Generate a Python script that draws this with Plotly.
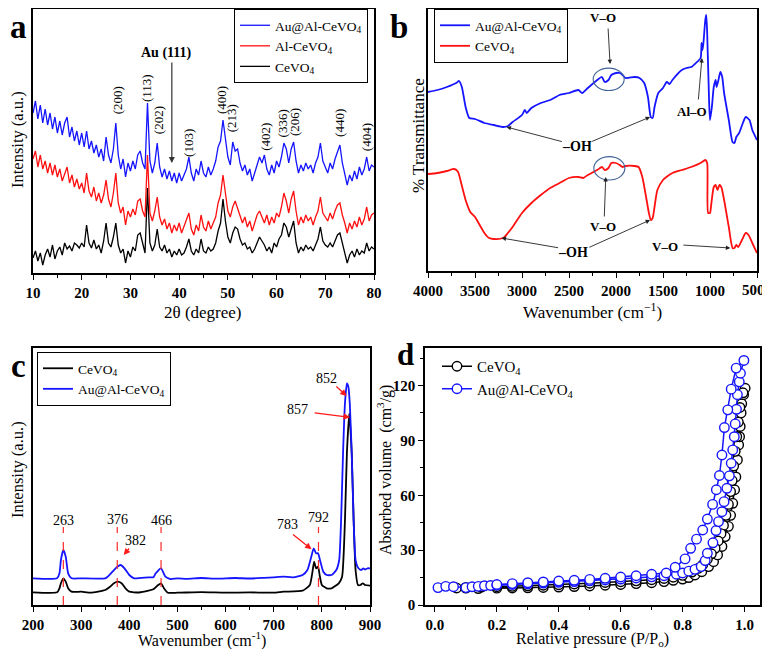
import plotly.graph_objects as go

OFF = 8  # page body margin of the browser
W, H = 770 - OFF, 657 - 2 * OFF
SERIF = "Liberation Serif, Times New Roman, serif"

# ---------------- Panel a: XRD ----------------
two_theta = [10 + 0.5 * i for i in range(141)]
xrd_cevo4 = [15,22,12,20,8,18,24,16,28,14,22,26,18,30,24,27,22,30,28,25,
             30,26,48,30,25,33,24,28,20,32,50,30,26,36,50,28,20,24,10,22,
             16,26,22,38,40,30,20,85,30,22,28,44,26,22,28,20,24,16,22,18,
             24,18,20,26,34,22,18,24,20,34,22,20,26,22,24,30,42,50,74,52,
             36,30,40,46,44,34,28,30,24,26,20,24,30,36,32,28,22,26,20,30,
             26,34,38,50,46,36,44,52,30,20,26,22,28,24,26,22,28,34,46,32,
             28,26,30,26,32,38,40,30,22,10,18,22,16,24,18,22,20,30,22,26,24]
xrd_al_cevo4 = [114,122,106,118,104,112,100,110,98,108,96,104,92,100,106,90,98,86,94,84,
                90,80,100,82,76,86,72,80,70,78,93,74,66,80,100,70,60,66,48,62,
                56,64,58,72,74,62,56,118,60,52,62,76,56,48,54,44,50,40,48,42,
                50,40,46,52,60,44,38,48,42,58,46,42,52,44,50,56,70,78,98,80,
                62,56,66,72,64,56,50,56,46,52,42,50,58,62,56,50,58,48,56,50,
                60,56,66,80,72,60,74,82,62,48,56,50,58,52,56,48,56,62,76,60,
                56,52,60,54,62,68,70,58,50,40,50,44,52,46,56,48,54,66,52,58,60]
xrd_au_al_cevo4 = [160,172,154,168,150,164,148,160,144,156,140,152,138,150,156,136,146,132,142,128,
                   140,126,142,124,132,120,128,116,124,112,136,118,110,124,150,118,104,114,96,110,
                   102,112,104,118,122,110,104,170,112,100,110,130,106,96,104,94,102,92,100,90,
                   100,92,98,104,116,100,92,104,98,112,100,96,106,98,104,112,126,132,153,132,
                   116,108,131,122,124,110,102,108,98,104,92,100,108,116,110,118,104,98,108,100,
                   112,106,116,130,124,110,124,131,112,100,108,102,110,104,108,100,110,116,130,112,
                   106,100,110,104,114,122,128,110,100,88,98,92,102,94,106,98,104,116,102,108,106]
hkl_labels = ["(200)", "(113)", "(202)", "(103)", "(400)", "(213)", "(402)", "(336)", "(206)", "(440)", "(404)"]
hkl_pos = [27.5, 33.4, 35.9, 42.0, 48.8, 50.9, 57.8, 61.4, 63.8, 73.0, 78.6]
hkl_height = [173, 185, 153, 130, 173, 155, 136, 150, 151, 150, 136]

# ---------------- Panel b: FTIR ----------------
ftir_ticks = [4000, 3500, 3000, 2500, 2000, 1500, 1000, 500]
ftir_au_wn = [4000,3900,3800,3700,3670,3640,3600,3560,3500,3400,3300,3200,3150,3100,3000,
              2970,2950,2900,2800,2700,2600,2500,2400,2360,2300,2200,2150,2120,2080,2050,
              2000,1960,1930,1900,1800,1750,1700,1660,1630,1610,1590,1550,1500,1460,1430,
              1400,1300,1250,1200,1150,1100,1090,1080,1070,1050,1040,1030,1010,1000,980,
              960,940,930,910,890,870,850,800,760,740,720,690,650,620,580,550,500]
ftir_au = [179,181,184,188,190,184,164,153,152,148,146,144,145,149,156,
           161,158,163,168,171,176,178,181,178,183,191,194,189,191,196,
           198,198,196,193,194,193,188,174,154,153,164,178,183,189,187,
           191,201,203,204,208,213,228,221,228,251,256,238,171,151,164,
           184,191,184,191,199,194,178,151,129,128,134,138,148,154,151,141,131]
ftir_ce_wn = [4000,3900,3800,3720,3680,3650,3600,3550,3500,3450,3400,3350,3300,3200,3150,
              3100,3000,2900,2800,2700,2600,2500,2400,2350,2300,2200,2150,2120,2080,2050,
              2000,1960,1930,1900,1800,1760,1720,1680,1650,1630,1610,1590,1560,1500,1450,
              1400,1300,1200,1100,1050,1030,1020,1000,990,960,940,920,900,880,850,
              800,760,740,720,700,660,620,590,550,500]
ftir_ce = [97,98,100,102,99,89,71,59,54,46,38,33,32,33,38,
           44,58,68,76,83,88,93,94,93,96,101,104,101,103,108,
           108,106,104,105,105,104,94,74,58,51,53,64,81,91,95,
           98,101,104,108,111,108,58,58,64,84,86,81,86,84,71,
           44,23,23,26,24,31,38,36,28,18]

# ---------------- Panel c: Raman ----------------
raman_ce_wn = [200,250,255,258,263,268,273,280,300,320,350,360,368,376,384,392,400,420,440,450,
               460,466,472,480,500,550,600,650,700,720,760,775,780,784,788,792,796,800,810,820,
               835,842,848,852,857,862,866,870,875,880,885,890,900]
raman_ce = [12.7,12.7,16.7,21.7,26.7,23.3,16.7,13.3,13.3,12.3,15,18.3,21.7,23.3,21.7,16.7,13.3,12.5,14.3,15.7,
            20,21.7,16.7,12.3,12.3,12.8,12.3,12.6,12.3,13.3,14.3,20,31.7,43.3,36.7,38.3,28.3,20,16.7,16.7,
            21.7,28.3,85,151.7,191.7,151.7,85,35,20,20,21.7,20,19.3]
raman_au_wn = [200,250,255,258,263,268,273,280,300,350,355,365,375,382,390,400,410,440,450,455,
               466,475,485,500,520,550,580,620,650,680,700,720,740,760,770,778,783,788,792,797,
               803,810,820,830,836,840,844,848,852,855,858,862,866,870,876,882,886,890,895,900]
raman_au = [26.7,26.7,31.7,45,55,48.3,31.7,26.7,26.7,26.7,28.3,33.3,38.3,40,36.7,30,26.7,27.7,27.7,31.7,
            36.7,28.3,26,26.7,26.2,27.0,26.3,27.0,26.5,27.2,27.7,28.3,27.7,30,35,48.3,56.7,51.7,51.7,43.3,
            33.3,30,30,35,45,85,151.7,201.7,221.7,218.3,201.7,151.7,85,45,36.7,35,36.7,35.5,36.7,36.7]
raman_lines = [263, 375, 466, 793]

# ---------------- Panel d: N2 isotherms ----------------
ce_p = [0.07,0.10,0.14,0.20,0.25,0.30,0.35,0.40,0.45,0.50,0.55,0.60,0.65,0.70,0.74,0.77,0.80,0.82,0.84,0.862,
        0.884,0.900,0.913,0.927,0.9375,0.948,0.955,0.962,0.968,0.972,0.977,0.981,0.984,0.986,0.989,0.991,0.997,1.002,
        0.995,0.985,0.98,0.975,0.97,0.965,0.96,0.955,0.948,0.94,0.932,0.924,0.915,0.905,0.893,0.88,0.865,0.85,
        0.83,0.80,0.77,0.74,0.70,0.65,0.60,0.55,0.50,0.45,0.40,0.35,0.30,0.25,0.20,0.15,0.10]
ce_v = [9.3,9.2,9.0,9.2,9.3,9.4,9.6,9.8,10.1,10.4,10.8,11.2,11.7,12.2,12.8,13.5,14.2,15.0,16.4,18.2,
        21.0,23.7,27.4,32.0,37.4,43.0,49.0,55.6,63.0,70.0,79.3,87.5,92.0,97.6,105.0,110.0,115.0,118.5,
        116,108,100,92,84,76,68,62,55,49,43.5,39,35,31,28,25,22,20,
        18,16.2,15.2,14.5,13.8,13.2,12.7,12.3,11.9,11.5,11.1,10.8,10.5,10.2,10.0,9.8,9.6]
au_p = [0.01,0.035,0.06,0.10,0.12,0.14,0.16,0.18,0.20,0.25,0.30,0.35,0.40,0.45,0.50,0.55,0.60,0.65,0.70,0.74,
        0.78,0.80,0.82,0.84,0.86,0.873,0.88,0.898,0.908,0.916,0.927,0.934,0.943,0.951,0.957,0.962,0.967,0.970,
        0.974,0.977,0.983,0.987,0.998,
        0.973,0.957,0.946,0.935,0.927,0.919,0.909,0.897,0.880,0.865,0.845,0.826,0.808,0.776,0.747,
        0.70,0.65,0.60,0.55,0.50,0.45,0.40,0.35,0.30,0.25,0.20]
au_v = [9.5,10.2,10.0,9.5,10.0,10.2,10.5,10.7,10.8,11.2,11.6,12.0,12.4,12.8,13.2,13.7,14.2,14.8,15.4,16.0,
        16.8,17.5,18.5,19.5,21.0,24.3,28.3,34.0,40.7,45.6,51.0,56.5,63.8,70.6,77.5,84.8,92.0,99.0,
        107.0,115.0,122.0,126.7,133.7,
        129.5,118,106.7,97,82,70.8,63,55,47,41,36,31,25.2,20.6,17.5,
        16.8,16,15.3,14.6,14,13.5,13.1,12.6,12.2,11.7,11.2]

BLUE, RED, BLACK = "#1515ff", "#ff1010", "#000000"

fig = go.Figure()
# Panel a
fig.add_trace(go.Scatter(x=two_theta, y=xrd_cevo4, mode="lines", name="CeVO<sub>4</sub>",
                         line=dict(color=BLACK, width=1.3), xaxis="x", yaxis="y", legend="legend"))
fig.add_trace(go.Scatter(x=two_theta, y=xrd_al_cevo4, mode="lines", name="Al-CeVO<sub>4</sub>",
                         line=dict(color=RED, width=1.3), xaxis="x", yaxis="y", legend="legend"))
fig.add_trace(go.Scatter(x=two_theta, y=xrd_au_al_cevo4, mode="lines", name="Au@Al-CeVO<sub>4</sub>",
                         line=dict(color=BLUE, width=1.3), xaxis="x", yaxis="y", legend="legend"))
# Panel b
fig.add_trace(go.Scatter(x=ftir_au_wn, y=ftir_au, mode="lines", name="Au@Al-CeVO<sub>4</sub>",
                         line=dict(color=BLUE, width=1.8, shape="spline", smoothing=0.6), xaxis="x2", yaxis="y2", legend="legend2"))
fig.add_trace(go.Scatter(x=ftir_ce_wn, y=ftir_ce, mode="lines", name="CeVO<sub>4</sub>",
                         line=dict(color=RED, width=1.8, shape="spline", smoothing=0.6), xaxis="x2", yaxis="y2", legend="legend2"))
# Panel c
fig.add_trace(go.Scatter(x=raman_ce_wn, y=raman_ce, mode="lines", name="CeVO<sub>4</sub>",
                         line=dict(color=BLACK, width=1.8, shape="spline", smoothing=0.5), xaxis="x3", yaxis="y3", legend="legend3"))
fig.add_trace(go.Scatter(x=raman_au_wn, y=raman_au, mode="lines", name="Au@Al-CeVO<sub>4</sub>",
                         line=dict(color=BLUE, width=1.8, shape="spline", smoothing=0.5), xaxis="x3", yaxis="y3", legend="legend3"))
# Panel d
fig.add_trace(go.Scatter(x=ce_p, y=ce_v, mode="lines+markers", name="CeVO<sub>4</sub>",
                         line=dict(color=BLACK, width=1.5),
                         marker=dict(symbol="circle", size=9.5, color="white", line=dict(color=BLACK, width=1.4)),
                         xaxis="x4", yaxis="y4", legend="legend4"))
fig.add_trace(go.Scatter(x=au_p, y=au_v, mode="lines+markers", name="Au@Al-CeVO<sub>4</sub>",
                         line=dict(color=BLUE, width=1.5),
                         marker=dict(symbol="circle", size=9.5, color="white", line=dict(color=BLUE, width=1.4)),
                         xaxis="x4", yaxis="y4", legend="legend4"))


def PX(x):
    return (x - OFF) / W


def PY(y):
    return 1 - (y - OFF) / H


def xd(p0, p1):
    return [PX(p0), PX(p1)]


def yd(top, bottom):
    return [PY(bottom), PY(top)]


TICKFONT = dict(family=SERIF, size=15, color="black", weight="bold")


def xax(domain, anchor, rng, dtick, minor_dtick, **kw):
    d = dict(domain=domain, anchor=anchor, range=rng, dtick=dtick, showline=True, mirror=True,
             linecolor="black", linewidth=1.5, showgrid=False, zeroline=False, ticks="outside",
             ticklen=5, tickwidth=1.2, tickcolor="black", automargin=False,
             tickfont=TICKFONT,
             minor=dict(ticks="outside", ticklen=3, dtick=minor_dtick, tickcolor="black", tickwidth=1))
    d.update(kw)
    return d


def yax_blank(domain, anchor, rng):
    return dict(domain=domain, anchor=anchor, range=rng, showline=True, mirror=True,
                linecolor="black", linewidth=1.5, showgrid=False, zeroline=False,
                showticklabels=False, ticks="", automargin=False)


legend_common = dict(xanchor="left", yanchor="top", bgcolor="white", bordercolor="black",
                     borderwidth=1, font=dict(family=SERIF, size=13.5, color="black"),
                     itemwidth=30, tracegroupgap=0)

# the last FTIR tick label is written as an annotation so it stays inside the page
ftir_ticktext = [str(v) for v in ftir_ticks[:-1]] + [""]

TOP = 9  # top frame of panels a and b (page pixels)
fig.update_layout(
    width=W, height=H, margin=dict(l=0, r=0, t=0, b=0, pad=0, autoexpand=False),
    paper_bgcolor="white", plot_bgcolor="white",
    font=dict(family=SERIF, color="black"),
    xaxis=xax(xd(33, 374), "y", [10, 80], 10, 5, tick0=10),
    yaxis=yax_blank(yd(TOP, 273), "x", [0, 273 - TOP]),
    xaxis2=xax(xd(428, 757), "y2", [4000, 500], 500, 250, tick0=500,
               tickmode="array", tickvals=ftir_ticks, ticktext=ftir_ticktext),
    yaxis2=yax_blank(yd(TOP, 271), "x2", [0, 271 - TOP]),
    xaxis3=xax(xd(33, 370), "y3", [200, 900], 100, 50, tick0=200),
    yaxis3=yax_blank(yd(348, 605), "x3", [0, 257]),
    xaxis4=xax(xd(425, 760), "y4", [-0.032, 1.05], 0.2, 0.1, tick0=0, tickformat=".1f"),
    yaxis4=dict(domain=yd(348, 605), anchor="x4", range=[0, 140.5], dtick=30, tick0=0,
                showline=True, mirror=True, linecolor="black", linewidth=1.5, showgrid=False,
                zeroline=False, ticks="outside", ticklen=5, tickwidth=1.2, tickcolor="black",
                automargin=False, tickfont=TICKFONT,
                minor=dict(ticks="outside", ticklen=3, dtick=15, tickcolor="black")),
    legend=dict(x=PX(234), y=PY(TOP), traceorder="reversed", **legend_common),
    legend2=dict(x=PX(434), y=PY(TOP), traceorder="normal", **legend_common),
    legend3=dict(x=PX(37), y=PY(352), traceorder="normal", **legend_common),
    legend4=dict(x=PX(437), y=PY(350), traceorder="normal", xanchor="left", yanchor="top",
                 bgcolor="rgba(0,0,0,0)", borderwidth=0,
                 font=dict(family=SERIF, size=15, color="black"), itemwidth=30, tracegroupgap=0),
)

ann = []
shapes = []


def ptext(text, x, y, size, angle=0, bold=False, xanchor="center"):
    ann.append(dict(text=("<b>%s</b>" % text) if bold else text, x=PX(x), y=PY(y),
                    xref="paper", yref="paper", showarrow=False, textangle=angle,
                    xanchor=xanchor, yanchor="middle",
                    font=dict(family=SERIF, size=size, color="black")))


# panel letters
ptext("a", 18, 27, 33, bold=True)
ptext("b", 399, 27, 33, bold=True)
ptext("c", 18, 366, 33, bold=True)
ptext("d", 405, 354, 31, bold=True)
# axis titles
ptext("Intensity (a.u.)", 17, 140, 16.5, angle=-90)
ptext("2θ (degree)", 203, 312, 17)
ptext("% Transmittance", 418, 136, 17, angle=-90)
ptext("Wavenumber (cm<sup>−1</sup>)", 592, 311, 17)
ptext("Intensity (a.u.)", 17, 470, 16.5, angle=-90)
ptext("Wavenumber (cm<sup>-1</sup>)", 202, 639, 16)
ptext("Absorbed volume  (cm<sup>3</sup>/g)", 384, 470, 16, angle=-90)
ptext("Relative pressure (P/P<sub>o</sub>)", 592, 639, 16)
# last FTIR tick label
ann.append(dict(text="500", x=PX(767), y=PY(290), xref="paper", yref="paper", showarrow=False,
                xanchor="right", yanchor="middle", font=TICKFONT))


def dtext(text, x, y, xref, yref, size, angle=0, bold=False, color="black"):
    ann.append(dict(text=("<b>%s</b>" % text) if bold else text, x=x, y=y, xref=xref, yref=yref,
                    showarrow=False, textangle=angle, xanchor="center", yanchor="middle",
                    font=dict(family=SERIF, size=size, color=color)))


def arrow(x0, y0, x1, y1, xref, yref, color="#222222", width=0.9, size=1.0, head=2):
    ann.append(dict(text="", x=x1, y=y1, ax=x0, ay=y0, xref=xref, yref=yref, axref=xref, ayref=yref,
                    showarrow=True, arrowhead=head, arrowsize=size, arrowwidth=width,
                    arrowcolor=color, standoff=0, startstandoff=0))


# panel a labels
for lab, px, hy in zip(hkl_labels, hkl_pos, hkl_height):
    dtext(lab, px, hy, "x", "y", 13, angle=-90)
dtext("Au (111)", 37.4, 220, "x", "y", 14, bold=True)
arrow(38.5, 212, 38.5, 110, "x", "y", color="#333333", width=1.2, size=1.0)

# panel b labels
shapes.append(dict(type="circle", xref="x2", yref="y2", x0=2243, x1=1913, y0=180.5, y1=202.9,
                   line=dict(color="#3f6296", width=1.1)))
shapes.append(dict(type="circle", xref="x2", yref="y2", x0=2236, x1=1906, y0=91, y1=114.4,
                   line=dict(color="#3f6296", width=1.1)))
dtext("V–O", 2134, 253, "x2", "y2", 13, bold=True)
arrow(2085, 244, 2063, 207, "x2", "y2")
dtext("Al–O", 1192, 159, "x2", "y2", 13, bold=True)
arrow(1125, 170, 1086, 213, "x2", "y2")
dtext("–OH", 2418, 124, "x2", "y2", 14, bold=True)
arrow(2560, 129, 3165, 144, "x2", "y2")
arrow(2270, 129, 1637, 154, "x2", "y2")
dtext("V–O", 2134, 44, "x2", "y2", 13, bold=True)
arrow(2125, 53, 2109, 94, "x2", "y2")
dtext("–OH", 2454, 18, "x2", "y2", 14, bold=True)
arrow(2600, 23, 3218, 33, "x2", "y2")
arrow(2300, 23, 1637, 51, "x2", "y2")
dtext("V–O", 1477, 24, "x2", "y2", 13, bold=True)
arrow(1299, 26, 784, 23, "x2", "y2")

# panel c labels
for wl in raman_lines:
    shapes.append(dict(type="line", xref="x3", yref="y3", x0=wl, x1=wl, y0=0, y1=78,
                       line=dict(color="#ff2a2a", width=1.2, dash="dash")))
for lab, px, py in [("263", 262.5, 85), ("376", 374.6, 86), ("466", 467, 85),
                    ("382", 413, 65), ("783", 728, 81), ("792", 794, 88),
                    ("852", 810, 227), ("857", 749.5, 196)]:
    dtext(lab, px, py, "x3", "y3", 14)
for (x0, y0, x1, y1) in [(402, 58, 388.5, 50), (737, 71.7, 778.6, 55.7),
                         (827, 220, 851.4, 209), (782, 192.3, 858.4, 187.7)]:
    arrow(x0, y0, x1, y1, "x3", "y3", color="#ff1a1a", width=1.3, size=1.0)

fig.update_layout(annotations=ann, shapes=shapes)
fig.write_html("out.html")
